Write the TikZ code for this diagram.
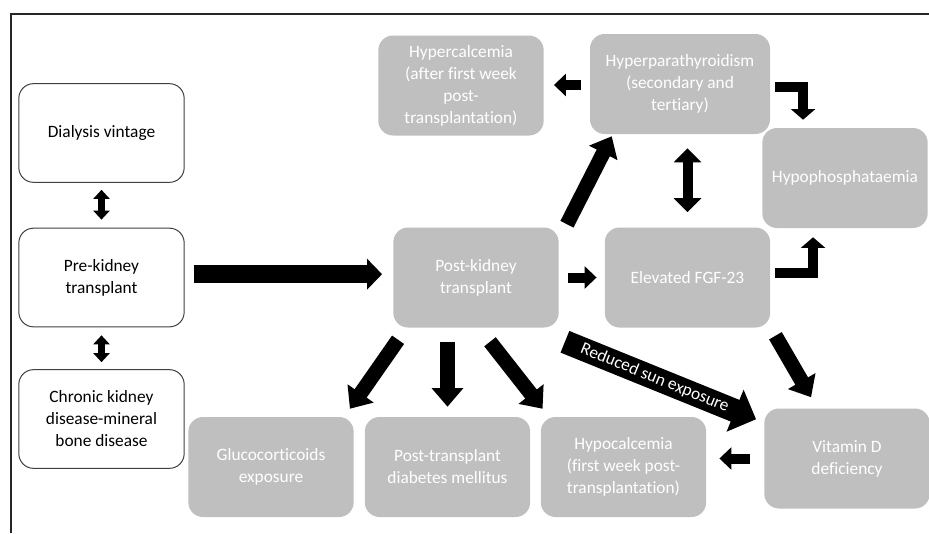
\documentclass[tikz,border=0pt]{standalone}
\usepackage{fontspec}
\setmainfont{Carlito}[Ligatures=NoCommon]
\usetikzlibrary{arrows.meta}

\definecolor{boxgrey}{HTML}{BFBFBF}

\tikzset{
  whitebox/.style={rectangle, rounded corners=11pt, draw=black!75, line width=0.75pt,
    fill=white, align=center, inner sep=0pt, minimum width=124pt, minimum height=74pt},
  greybox/.style={rectangle, rounded corners=11pt, fill=boxgrey, text=white,
    align=center, inner sep=0pt, minimum width=124pt, minimum height=75pt},
  dbl/.style={line width=5.25pt, {Triangle[width=12pt,length=6.75pt]}-{Triangle[width=12pt,length=6.75pt]}},
  dblbig/.style={line width=7.5pt, {Triangle[width=20pt,length=10.5pt]}-{Triangle[width=20pt,length=10.5pt]}},
  sml/.style={line width=7.5pt, -{Triangle[width=16.5pt,length=9pt]}},
  elb/.style={line width=7.5pt, line join=miter, -{Triangle[width=18pt,length=8pt]}},
  mid/.style={line width=11pt, -{Triangle[width=23pt,length=14pt]}},
  big/.style={line width=13.5pt, -{Triangle[width=22.5pt,length=11.25pt]}},
  sun/.style={line width=17.5pt, -{Triangle[width=33pt,length=17pt]}}
}

\begin{document}
\begin{tikzpicture}[x=0.75pt, y=-0.75pt, font=\fontsize{13}{16.5}\selectfont]
  \useasboundingbox (0,0) rectangle (929,533);

  % Frame
  \draw[line width=1.8pt, black!85] (11,533) -- (11,14) -- (929,14);

  % Left column
  \node[whitebox] (dial) at (101.5,133) {Dialysis vintage};
  \node[whitebox] (pre) at (101.5,277.5) {Pre-kidney\\transplant};
  \node[whitebox] (ckd) at (101.5,419) {Chronic kidney\\disease-mineral\\bone disease};

  % Top row
  \node[greybox] (hypercal) at (461,85.5) {Hypercalcemia\\(after first week\\post-\\transplantation)};
  \node[greybox, minimum width=135pt] (hpt) at (680,84) {Hyperparathyroidism\\(secondary and\\tertiary)};
  \node[greybox] (hypophos) at (845,178) {Hypophosphataemia};

  % Middle row
  \node[greybox] (post) at (476,277.5) {Post-kidney\\transplant};
  \node[greybox] (fgf) at (687.5,277.5) {Elevated FGF-23};

  % Bottom row
  \node[greybox] (gluco) at (271,467) {Glucocorticoids\\exposure};
  \node[greybox] (ptdm) at (447.5,467) {Post-transplant\\diabetes mellitus};
  \node[greybox] (hypocal) at (623.5,467) {Hypocalcemia\\(first week post-\\transplantation)};
  \node[greybox] (vitd) at (847,458.5) {Vitamin D\\deficiency};

  % Left arrows
  \draw[dbl, shorten <=5.25pt, shorten >=6pt] (dial) -- (pre);
  \draw[dbl, shorten <=6pt, shorten >=5.25pt] (pre) -- (ckd);
  \draw[big, shorten <=6.75pt, shorten >=8.25pt] ([yshift=2.5pt]pre.east) -- ([yshift=2.5pt]pre.east -| post.west);

  % From post-kidney transplant
  \draw[sml, shorten <=6.75pt, shorten >=6pt] (post.east) -- (post.east -| fgf.west);
  \draw[mid] ([shift={(8,-3)}]post.north east) -- ([shift={(22,2)}]hpt.south west);
  \draw[mid] ([shift={(5,12)}]post.south west) -- ([shift={(-4,-8)}]gluco.north east);
  \draw[mid, shorten <=11pt, shorten >=7.5pt] (ptdm.north |- post.south) -- (ptdm.north);
  \draw[mid] ([shift={(14,14)}]post.south) -- ([shift={(2,-8)}]hypocal.north west);
  \draw[sun] ([shift={(6,14)}]post.south east) -- ([shift={(-8,11)}]vitd.north west)
    node[pos=0.47, sloped, text=white] {Reduced sun exposure};

  % Upper right
  \draw[sml, shorten <=6.75pt, shorten >=7.5pt] ([yshift=-0.75pt]hpt.west) -- ([yshift=-0.75pt]hpt.west -| hypercal.east);
  \draw[dblbig, shorten <=10.5pt, shorten >=11.25pt] (fgf.north |- hpt.south) -- (fgf.north);
  \draw[elb] ([shift={(5,3)}]hpt.east) -| ([shift={(41,-8)}]hypophos.north west);
  \draw[elb] ([shift={(5,-5)}]fgf.east) -| ([shift={(51,9)}]hypophos.south west);

  % Lower right
  \draw[mid] ([shift={(5,8)}]fgf.south east) -- ([shift={(47,-11)}]vitd.north west);
  \draw[sml, shorten <=10.5pt, shorten >=9.75pt] (vitd.west) -- (vitd.west -| hypocal.east);
\end{tikzpicture}
\end{document}
